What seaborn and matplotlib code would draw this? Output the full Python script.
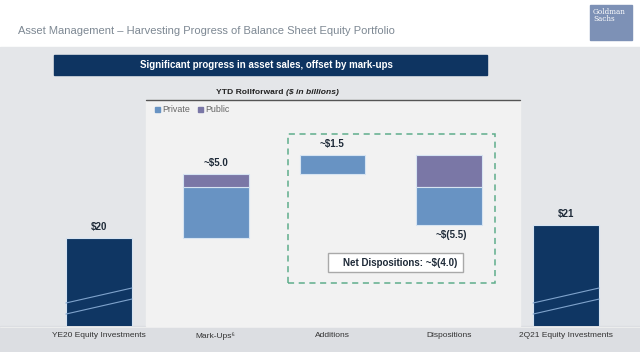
import numpy as np
import pandas as pd
import matplotlib
matplotlib.use("Agg")
import matplotlib.pyplot as plt
from matplotlib.patches import Rectangle
from matplotlib.lines import Line2D
import seaborn as sns

# ---------------- data ----------------
categories = ["YE20 Equity Investments", "Mark-Ups\u2076", "Additions", "Dispositions", "2Q21 Equity Investments"]
totals = [20.0, None, None, None, 21.0]          # total bars (YE20, 2Q21)
private_vals = [None, 4.0, 1.5, -3.0, None]      # change in private holdings
public_vals = [None, 1.0, 0.0, -2.5, None]       # change in public holdings
value_labels = ["$20", "~$5.0", "~$1.5", "~$(5.5)", "$21"]
legend_labels = ["Private", "Public"]

title = "Asset Management \u2013 Harvesting Progress of Balance Sheet Equity Portfolio"
banner = "Significant progress in asset sales, offset by mark-ups"
subtitle_bold = "YTD Rollforward "
subtitle_ital = "($ in billions)"

# ---------------- style ----------------
NAVY = "#0f3663"
PRIVATE = "#6893c3"
PUBLIC = "#7a77a6"
EDGE = "#d6e4f2"
BG = "#e4e6e9"
PANEL = "#f2f2f2"
TXT = "#1e2a38"

sns.set_theme(style="white")
plt.rcParams["font.family"] = ["Liberation Sans", "DejaVu Sans"]

W, H = 640, 352
fig = plt.figure(figsize=(6.4, 3.52), dpi=100)
fig.patch.set_facecolor("white")

def px(x0, y0, w, h):
    return [x0 / W, 1 - (y0 + h) / H, w / W, h / H]

def xd(p):
    # pixel x -> category data coordinate
    return (p - 40.5) / 116.8 - 0.5

# background regions (figure level)
fig.patches.append(Rectangle((0, 0), 1, 1 - 47 / H, transform=fig.transFigure, color=BG, zorder=-10))
fig.patches.append(Rectangle((0, 0), 1, 1 - 326 / H, transform=fig.transFigure, color="#dcdee2", zorder=-9))
fig.patches.append(Rectangle((146 / W, 1 - 326 / H), (520 - 146) / W, (326 - 100) / H,
                             transform=fig.transFigure, color=PANEL, zorder=-8))
fig.lines.append(Line2D([146 / W, 520 / W], [1 - 100 / H, 1 - 100 / H], transform=fig.transFigure,
                        color="#555555", lw=1.0, zorder=-7))
fig.lines.append(Line2D([0, 1], [1 - 326.5 / H, 1 - 326.5 / H], transform=fig.transFigure,
                        color="#f0f0f0", lw=0.6, zorder=-7))
# banner
fig.patches.append(Rectangle((54 / W, 1 - 75 / H), (487 - 54) / W, 20 / H, transform=fig.transFigure,
                             color="#0e3461", zorder=-5))
fig.text(266 / W, 1 - 65.5 / H, banner, color="white", fontsize=7.0, fontweight="bold",
         ha="center", va="center")
# title
fig.text(18 / W, 1 - 30.5 / H, title, color="#7d8893", fontsize=8.0, ha="left", va="center")
# logo
fig.patches.append(Rectangle((590 / W, 1 - 40 / H), 42 / W, 35 / H, transform=fig.transFigure,
                             color="#7d91b6", zorder=-5))
fig.text(593 / W, 1 - 8 / H, "Goldman\nSachs", color="white", fontsize=5.2, family="DejaVu Serif",
         ha="left", va="top", linespacing=0.9)
# subtitle
t1 = fig.text(216 / W, 1 - 92 / H, subtitle_bold, color="#222222", fontsize=6.1, fontweight="bold",
              ha="left", va="center")
fig.canvas.draw()
bb = t1.get_window_extent()
fig.text(bb.x1 / W, 1 - 92 / H, subtitle_ital, color="#222222", fontsize=6.1, fontweight="bold",
         style="italic", ha="left", va="center")

# ---------------- axes ----------------
ax = fig.add_axes(px(40.5, 100, 584, 226))
ax.set_facecolor("none")
ymin = 13.07
ppu = 12.7
ax.set_ylim(ymin, ymin + 226 / ppu)

running = 0.0
bar_width = 0.565
for i, cat in enumerate(categories):
    if totals[i] is not None:
        df = pd.DataFrame({"cat": [cat], "val": [totals[i]]})
        sns.barplot(data=df, x="cat", y="val", order=categories, color=NAVY, width=bar_width,
                    edgecolor=EDGE, linewidth=0.8, saturation=1, ax=ax)
        running = totals[i]
        top = totals[i]
        # axis-break marks
        y0 = ymin + (326 - 303) / ppu
        for dy in (0.0, -0.87):
            ax.plot([i - bar_width / 2, i + bar_width / 2], [y0 + dy, y0 + dy + 1.18],
                    color="#7fa3cc", lw=0.8, zorder=5)
        ax.text(i, top + 0.5, value_labels[i], ha="center", va="bottom", fontsize=7.0,
                fontweight="bold", color=TXT)
    else:
        start = running
        pv, qv = private_vals[i], public_vals[i]
        base = start
        if pv >= 0:
            for v, c in [(pv, PRIVATE), (qv, PUBLIC)]:
                if v > 0:
                    df = pd.DataFrame({"cat": [cat], "val": [v]})
                    sns.barplot(data=df, x="cat", y="val", order=categories, color=c, width=bar_width,
                                bottom=base, edgecolor=EDGE, linewidth=0.8, saturation=1, ax=ax)
                    base += v
            running = base
            ax.text(i, running + 0.5, value_labels[i], ha="center", va="bottom", fontsize=7.0,
                    fontweight="bold", color=TXT)
        else:
            for v, c in [(qv, PUBLIC), (pv, PRIVATE)]:
                if v < 0:
                    df = pd.DataFrame({"cat": [cat], "val": [v]})
                    sns.barplot(data=df, x="cat", y="val", order=categories, color=c, width=bar_width,
                                bottom=base, edgecolor=EDGE, linewidth=0.8, saturation=1, ax=ax)
                    base += v
            running = base
            ax.text(i + 0.02, running - 0.35, value_labels[i], ha="center", va="top", fontsize=7.0,
                    fontweight="bold", color=TXT)

ax.set_xlim(-0.5, len(categories) - 0.5)
ax.set_xlabel("")
ax.set_ylabel("")
ax.set_yticks([])
ax.tick_params(axis="x", length=0, pad=4.5, labelsize=6.0, colors="#333333")
for s in ax.spines.values():
    s.set_visible(False)

# dashed box around additions/dispositions
dash = Rectangle((xd(288), ymin + (326 - 283) / ppu), xd(495) - xd(288), (283 - 134) / ppu,
                 fill=False, edgecolor="#5fae8c", lw=1.1, ls=(0, (4, 3)), zorder=6)
ax.add_patch(dash)

net = private_vals[2] + public_vals[2] + private_vals[3] + public_vals[3]
net_txt = f"Net Dispositions: ~$({abs(net):.1f})" if net < 0 else f"Net Dispositions: ~${net:.1f}"
nb = Rectangle((xd(328), ymin + (326 - 272) / ppu), xd(463) - xd(328), 19 / ppu, facecolor="white",
               edgecolor="#a9a9a9", lw=1.0, zorder=7)
ax.add_patch(nb)
ax.text(xd(400), ymin + (326 - 262.5) / ppu, net_txt, ha="center", va="center",
        fontsize=7.0, fontweight="bold", color=TXT, zorder=8)

# legend
handles = [Rectangle((0, 0), 1, 1, color=PRIVATE), Rectangle((0, 0), 1, 1, color=PUBLIC)]
leg = ax.legend(handles, legend_labels, loc="upper left", bbox_to_anchor=((150 - 40.5) / 584, 1.0),
                ncol=2, frameon=False, fontsize=6.4, handlelength=0.5, handleheight=0.5,
                handletextpad=0.3, columnspacing=0.9, borderaxespad=0.2, labelcolor="#666666")

fig.savefig("out.png", dpi=100, facecolor=fig.get_facecolor())
